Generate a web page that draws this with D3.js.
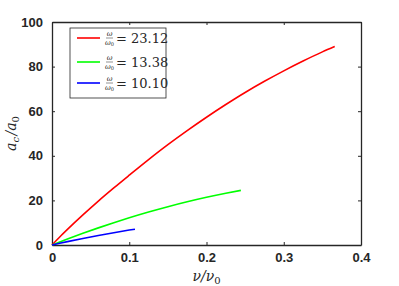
<!DOCTYPE html>
<html>
<head>
<meta charset="utf-8">
<script src="https://cdn.jsdelivr.net/npm/d3@7"></script>
<style>
  body { margin: 0; background: #fff; }
  .tick text { font-family: "Liberation Sans", Arial, sans-serif; font-weight: bold; font-size: 13px; fill: #262626; }
  .lbl { font-family: "DejaVu Serif", "Liberation Serif", serif; font-style: italic; fill: #262626; }
</style>
</head>
<body>
<svg id="chart" width="399" height="286"></svg>
<script>
// Data
const redNu   = [0, 0.01, 0.02, 0.04, 0.06, 0.08, 0.1, 0.125, 0.15, 0.175, 0.2, 0.225, 0.25, 0.275, 0.3, 0.325, 0.35, 0.366];
const redA    = [0, 3.6, 7.0, 13.5, 19.7, 25.6, 31.3, 38.3, 45.0, 51.3, 57.3, 63.0, 68.4, 73.4, 78.1, 82.5, 86.6, 89.0];
const greenNu = [0, 0.01, 0.02, 0.04, 0.06, 0.08, 0.1, 0.125, 0.15, 0.175, 0.2, 0.225, 0.2445];
const greenA  = [0, 1.36, 2.68, 5.24, 7.68, 10.0, 12.2, 14.78, 17.17, 19.37, 21.38, 23.2, 24.5];
const blueNu  = [0, 0.01, 0.02, 0.04, 0.06, 0.08, 0.1, 0.1074];
const blueA   = [0, 0.76, 1.5, 2.91, 4.25, 5.51, 6.69, 7.1];
const ratios  = ["23.12", "13.38", "10.10"];
const colors  = ["#ff0000", "#00ff00", "#0000ff"];
const xTicks  = [0, 0.1, 0.2, 0.3, 0.4];
const yTicks  = [0, 20, 40, 60, 80, 100];

const series = [
  {nu: redNu, a: redA},
  {nu: greenNu, a: greenA},
  {nu: blueNu, a: blueA}
];

const margin = {top: 22, right: 38, bottom: 41, left: 52};
const width = 399 - margin.left - margin.right;
const height = 286 - margin.top - margin.bottom;

const svg = d3.select("#chart")
  .append("g")
  .attr("transform", "translate(" + margin.left + "," + margin.top + ")");

const x = d3.scaleLinear().domain([0, 0.4]).range([0, width]);
const y = d3.scaleLinear().domain([0, 100]).range([height, 0]);

// axes (box with ticks on all four sides, MATLAB style)
function styleAxis(g) {
  g.select(".domain").attr("stroke", "#262626").attr("stroke-width", 1.3);
  g.selectAll(".tick line").attr("stroke", "#262626").attr("stroke-width", 1);
}
svg.append("g")
  .attr("transform", "translate(0," + height + ")")
  .call(d3.axisBottom(x).tickValues(xTicks).tickFormat(d3.format("")).tickSizeInner(-3).tickSizeOuter(0).tickPadding(8))
  .call(styleAxis);
svg.append("g")
  .call(d3.axisLeft(y).tickValues(yTicks).tickSizeInner(-3).tickSizeOuter(0).tickPadding(9))
  .call(styleAxis);
svg.append("g")
  .call(d3.axisTop(x).tickValues(xTicks).tickFormat("").tickSizeInner(-3).tickSizeOuter(0))
  .call(styleAxis);
svg.append("g")
  .attr("transform", "translate(" + width + ",0)")
  .call(d3.axisRight(y).tickValues(yTicks).tickFormat("").tickSizeInner(-3).tickSizeOuter(0))
  .call(styleAxis);

// curves
const line = d3.line().x(d => x(d[0])).y(d => y(d[1])).curve(d3.curveMonotoneX);
series.forEach(function(s, i) {
  svg.append("path")
    .datum(s.nu.map((v, j) => [v, s.a[j]]))
    .attr("fill", "none")
    .attr("stroke", colors[i])
    .attr("stroke-width", 1.6)
    .attr("d", line);
});

// axis labels
const xl = svg.append("text").attr("class", "lbl")
  .attr("x", width / 2).attr("y", height + 36)
  .attr("text-anchor", "middle").attr("font-size", 14);
xl.append("tspan").text("ν/ν");
xl.append("tspan").attr("font-size", 10).attr("font-style", "normal").attr("dy", 3).text("0");

const yl = svg.append("text").attr("class", "lbl")
  .attr("transform", "translate(" + (-36) + "," + (height / 2) + ") rotate(-90)")
  .attr("text-anchor", "middle").attr("font-size", 14);
yl.append("tspan").text("a");
yl.append("tspan").attr("font-size", 10).attr("dy", 3).text("c");
yl.append("tspan").attr("dy", -3).attr("dx", 1.5).text("/a");
yl.append("tspan").attr("font-size", 10).attr("font-style", "normal").attr("dy", 3).text("0");

// legend
const legend = d3.select("#chart").append("g").attr("transform", "translate(70,28)");
legend.append("rect")
  .attr("width", 96).attr("height", 70)
  .attr("fill", "#fff").attr("stroke", "#262626").attr("stroke-width", 0.8);
const rowY = [10, 34, 55];
ratios.forEach(function(r, i) {
  const row = legend.append("g").attr("transform", "translate(0," + rowY[i] + ")");
  row.append("line").attr("x1", 7).attr("x2", 30).attr("y1", 0).attr("y2", 0)
    .attr("stroke", colors[i]).attr("stroke-width", 1.6);
  row.append("text").attr("class", "lbl").attr("x", 39.5).attr("y", -2.5)
    .attr("text-anchor", "middle").attr("font-size", 7).text("ω");
  row.append("line").attr("x1", 36).attr("x2", 43).attr("y1", 0).attr("y2", 0)
    .attr("stroke", "#262626").attr("stroke-width", 0.5);
  const den = row.append("text").attr("class", "lbl").attr("x", 39.5).attr("y", 6.5)
    .attr("text-anchor", "middle").attr("font-size", 7);
  den.append("tspan").text("ω");
  den.append("tspan").attr("font-size", 5).attr("font-style", "normal").attr("dy", 1).text("0");
  row.append("text").attr("x", 46).attr("y", 4.5)
    .attr("font-family", "'DejaVu Serif', 'Liberation Serif', serif")
    .attr("font-size", 13).attr("fill", "#262626")
    .text("= " + r);
});
</script>
</body>
</html>
